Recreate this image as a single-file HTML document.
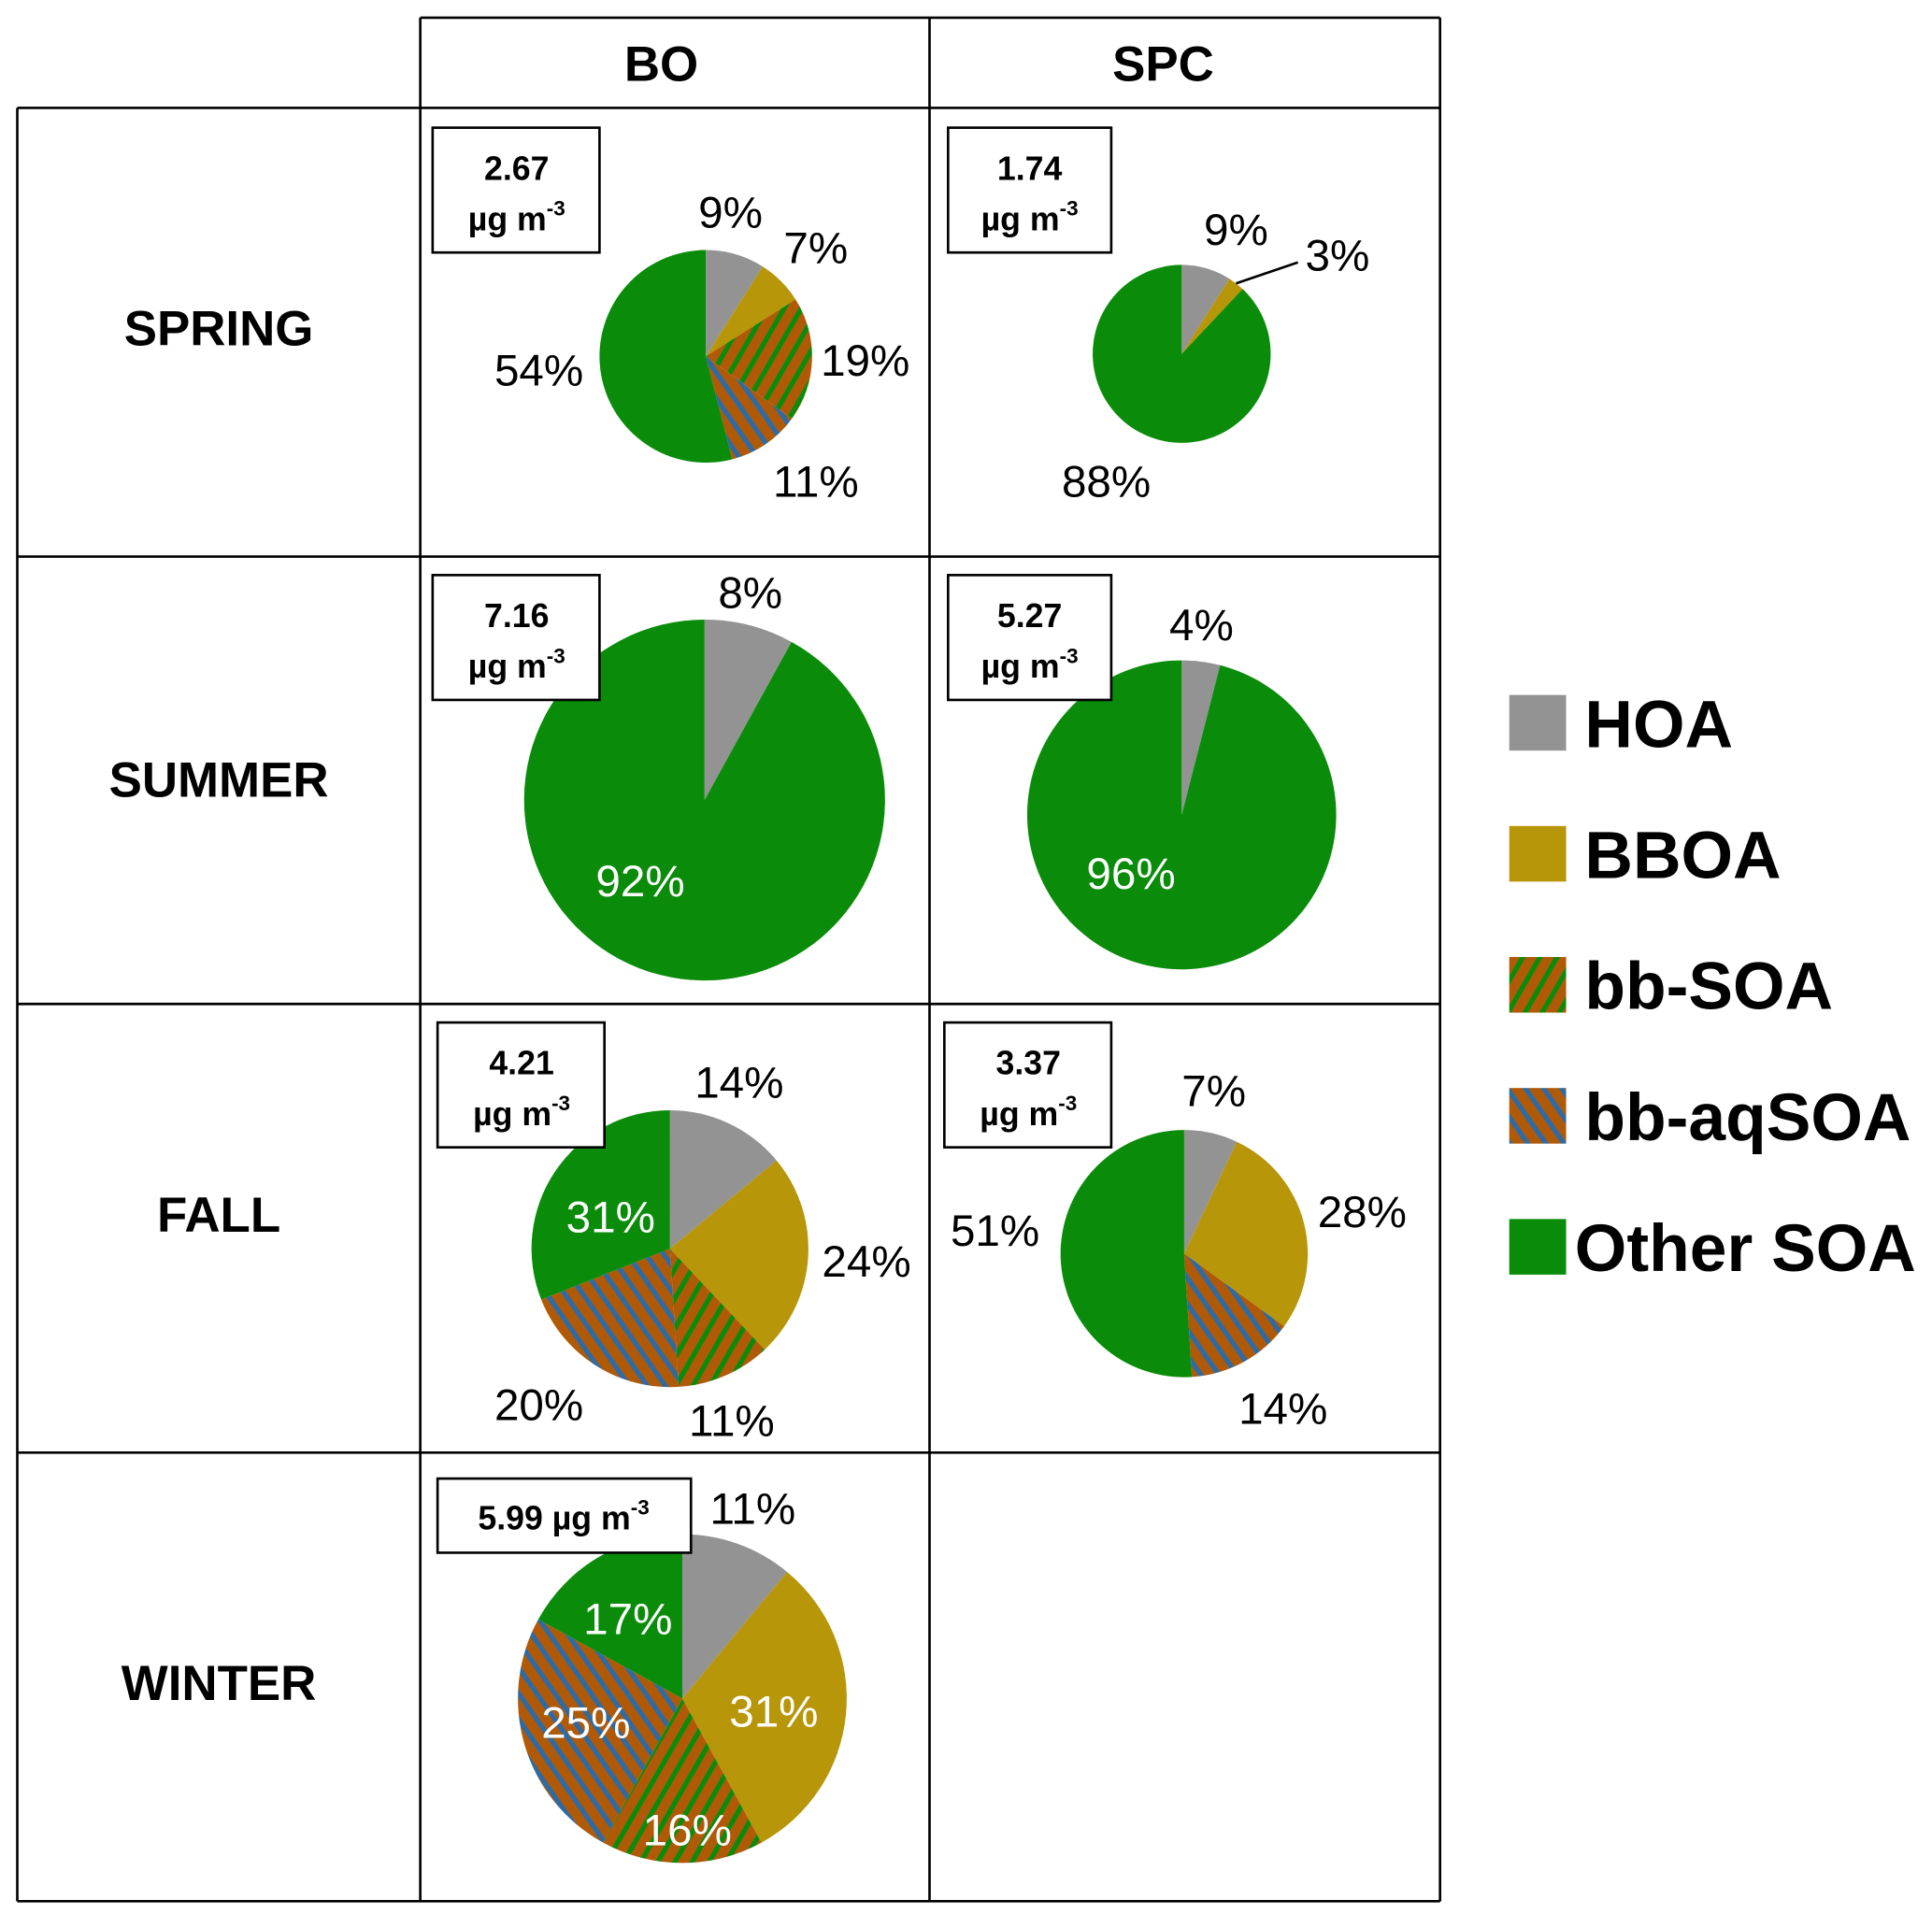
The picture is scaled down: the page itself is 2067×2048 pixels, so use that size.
<!DOCTYPE html>
<html><head><meta charset="utf-8"><style>
html,body{margin:0;padding:0;background:#fff;}
svg{display:block;}
text{font-family:"Liberation Sans",Arial,sans-serif;}
</style></head><body>
<svg id="chart" width="2067" height="2048" viewBox="0 0 1563 1548" xmlns="http://www.w3.org/2000/svg">
<defs>
<pattern id="pat-bbsoa" patternUnits="userSpaceOnUse" width="12" height="12" patternTransform="rotate(30)">
<rect width="12" height="12" fill="#b05a08"/><rect width="4" height="12" fill="#0a8c0a"/></pattern>
<pattern id="pat-bbaq" patternUnits="userSpaceOnUse" width="12" height="12" patternTransform="rotate(-35)">
<rect width="12" height="12" fill="#b05a08"/><rect width="4" height="12" fill="#2f6aa3"/></pattern>
</defs>
<g id="grid" stroke="#000" stroke-width="2" fill="none">
<line x1="340" y1="14" x2="1165" y2="14"/>
<line x1="14" y1="87" x2="1165" y2="87"/>
<line x1="14" y1="450" x2="1165" y2="450"/>
<line x1="14" y1="812" x2="1165" y2="812"/>
<line x1="14" y1="1175" x2="1165" y2="1175"/>
<line x1="14" y1="1538" x2="1165" y2="1538"/>
<line x1="14" y1="87" x2="14" y2="1538"/>
<line x1="340" y1="14" x2="340" y2="1538"/>
<line x1="752" y1="14" x2="752" y2="1538"/>
<line x1="1165" y1="14" x2="1165" y2="1538"/>
</g>
<g font-weight="bold" font-size="40" text-anchor="middle" dominant-baseline="central">
<text x="535" y="52">BO</text>
<text x="941" y="52">SPC</text>
<text x="177" y="266">SPRING</text>
<text x="177" y="631">SUMMER</text>
<text x="177" y="983">FALL</text>
<text x="177" y="1362">WINTER</text>
</g>
<g id="legend" font-weight="bold" font-size="54" dominant-baseline="central">
<rect x="1221" y="562" width="46" height="45" fill="#939393"/>
<text x="1282" y="586">HOA</text>
<rect x="1221" y="668" width="46" height="45" fill="#b8960a"/>
<text x="1282" y="692">BBOA</text>
<rect x="1221" y="774" width="46" height="45" fill="url(#pat-bbsoa)"/>
<text x="1282" y="798">bb-SOA</text>
<rect x="1221" y="880" width="46" height="45" fill="url(#pat-bbaq)"/>
<text x="1282" y="904">bb-aqSOA</text>
<rect x="1221" y="986" width="46" height="45" fill="#0a8c0a"/>
<text x="1274" y="1010">Other SOA</text>
</g>
<g id="boxes" font-weight="bold" font-size="27" text-anchor="middle" dominant-baseline="central">
<g><rect x="350" y="103" width="135" height="101" fill="#fff" stroke="#000" stroke-width="2"/><text x="418" y="136">2.67</text><text x="418" y="177">µg m<tspan font-size="17" dy="-9">-3</tspan></text></g>
<g><rect x="767" y="103" width="132" height="101" fill="#fff" stroke="#000" stroke-width="2"/><text x="833" y="136">1.74</text><text x="833" y="177">µg m<tspan font-size="17" dy="-9">-3</tspan></text></g>
</g>
<g id="pies"></g>
<g id="boxes2" font-weight="bold" font-size="27" text-anchor="middle" dominant-baseline="central">
<g><rect x="350" y="465" width="135" height="101" fill="#fff" stroke="#000" stroke-width="2"/><text x="418" y="498">7.16</text><text x="418" y="539">µg m<tspan font-size="17" dy="-9">-3</tspan></text></g>
<g><rect x="767" y="465" width="132" height="101" fill="#fff" stroke="#000" stroke-width="2"/><text x="833" y="498">5.27</text><text x="833" y="539">µg m<tspan font-size="17" dy="-9">-3</tspan></text></g>
<g><rect x="354" y="827" width="135" height="101" fill="#fff" stroke="#000" stroke-width="2"/><text x="422" y="860">4.21</text><text x="422" y="901">µg m<tspan font-size="17" dy="-9">-3</tspan></text></g>
<g><rect x="764" y="827" width="135" height="101" fill="#fff" stroke="#000" stroke-width="2"/><text x="832" y="860">3.37</text><text x="832" y="901">µg m<tspan font-size="17" dy="-9">-3</tspan></text></g>
<g><rect x="354" y="1196" width="205" height="60" fill="#fff" stroke="#000" stroke-width="2"/><text x="456" y="1228">5.99 µg m<tspan font-size="17" dy="-9">-3</tspan></text></g>
</g>
<line x1="1000" y1="229" x2="1050" y2="212" stroke="#000" stroke-width="2"/>
<g id="labels" font-size="36" text-anchor="middle" dominant-baseline="central"></g>
</svg>
<script>
// categories
const components = ["HOA", "BBOA", "bb-SOA", "bb-aqSOA", "Other SOA"];
// series values (percent), order = components
const boSpring = [9, 7, 19, 11, 54];
const spcSpring = [9, 3, 0, 0, 88];
const boSummer = [8, 0, 0, 0, 92];
const spcSummer = [4, 0, 0, 0, 96];
const boFall = [14, 24, 11, 20, 31];
const spcFall = [7, 28, 0, 14, 51];
const boWinter = [11, 31, 16, 25, 17];
// printed labels
const boSpringLabels = ["9%", "7%", "19%", "11%", "54%"];
const spcSpringLabels = ["9%", "3%", "", "", "88%"];
const boSummerLabels = ["8%", "", "", "", "92%"];
const spcSummerLabels = ["4%", "", "", "", "96%"];
const boFallLabels = ["14%", "24%", "11%", "20%", "31%"];
const spcFallLabels = ["7%", "28%", "", "14%", "51%"];
const boWinterLabels = ["11%", "31%", "16%", "25%", "17%"];

const fills = ["#939393", "#b8960a", "url(#pat-bbsoa)", "url(#pat-bbaq)", "#0a8c0a"];
const NS = "http://www.w3.org/2000/svg";
const piesG = document.getElementById("pies");
const labelsG = document.getElementById("labels");

const pies = [
  {name:"bo-spring", v:boSpring, l:boSpringLabels, cx:571, cy:288, r:86,
   lp:[[591,172,"#000"],[660,201,"#000"],[700,292,"#000"],[660,390,"#000"],[436,300,"#000"]]},
  {name:"spc-spring", v:spcSpring, l:spcSpringLabels, cx:956, cy:286, r:72,
   lp:[[1000,186,"#000"],[1082,207,"#000"],null,null,[895,390,"#000"]]},
  {name:"bo-summer", v:boSummer, l:boSummerLabels, cx:570, cy:647, r:146,
   lp:[[607,480,"#000"],null,null,null,[518,713,"#fff"]]},
  {name:"spc-summer", v:spcSummer, l:spcSummerLabels, cx:956, cy:659, r:125,
   lp:[[972,506,"#000"],null,null,null,[915,707,"#fff"]]},
  {name:"bo-fall", v:boFall, l:boFallLabels, cx:542, cy:1010, r:112,
   lp:[[598,876,"#000"],[701,1021,"#000"],[592,1150,"#000"],[436,1137,"#000"],[494,985,"#fff"]]},
  {name:"spc-fall", v:spcFall, l:spcFallLabels, cx:958, cy:1014, r:100,
   lp:[[982,883,"#000"],[1102,981,"#000"],null,[1038,1140,"#000"],[805,996,"#000"]]},
  {name:"bo-winter", v:boWinter, l:boWinterLabels, cx:552, cy:1374, r:133,
   lp:[[609,1221,"#000"],[626,1385,"#fff"],[556,1481,"#fff"],[474,1394,"#fff"],[508,1310,"#fff"]]}
];

function pt(cx, cy, r, a){ return [cx + r*Math.sin(a), cy - r*Math.cos(a)]; }

pies.forEach(p => {
  const total = p.v.reduce((a,b)=>a+b,0);
  let acc = 0;
  const g = document.createElementNS(NS, "g");
  
  
  piesG.appendChild(g);
  p.v.forEach((val, i) => {
    if (val <= 0) return;
    const a0 = acc/total*2*Math.PI; acc += val;
    const a1 = acc/total*2*Math.PI;
    const s = pt(p.cx,p.cy,p.r,a0), e = pt(p.cx,p.cy,p.r,a1);
    const large = (a1-a0) > Math.PI ? 1 : 0;
    const path = document.createElementNS(NS, "path");
    path.setAttribute("d", `M${p.cx},${p.cy} L${s[0]},${s[1]} A${p.r},${p.r} 0 ${large} 1 ${e[0]},${e[1]} Z`);
    path.setAttribute("fill", fills[i]);
    
    
    g.appendChild(path);
    const lp = p.lp[i];
    if (lp && p.l[i]) {
      const t = document.createElementNS(NS, "text");
      t.setAttribute("x", lp[0]); t.setAttribute("y", lp[1]);
      t.setAttribute("fill", lp[2]);
      t.textContent = p.l[i];
      
      
      labelsG.appendChild(t);
    }
  });
});
</script>
</body></html>
